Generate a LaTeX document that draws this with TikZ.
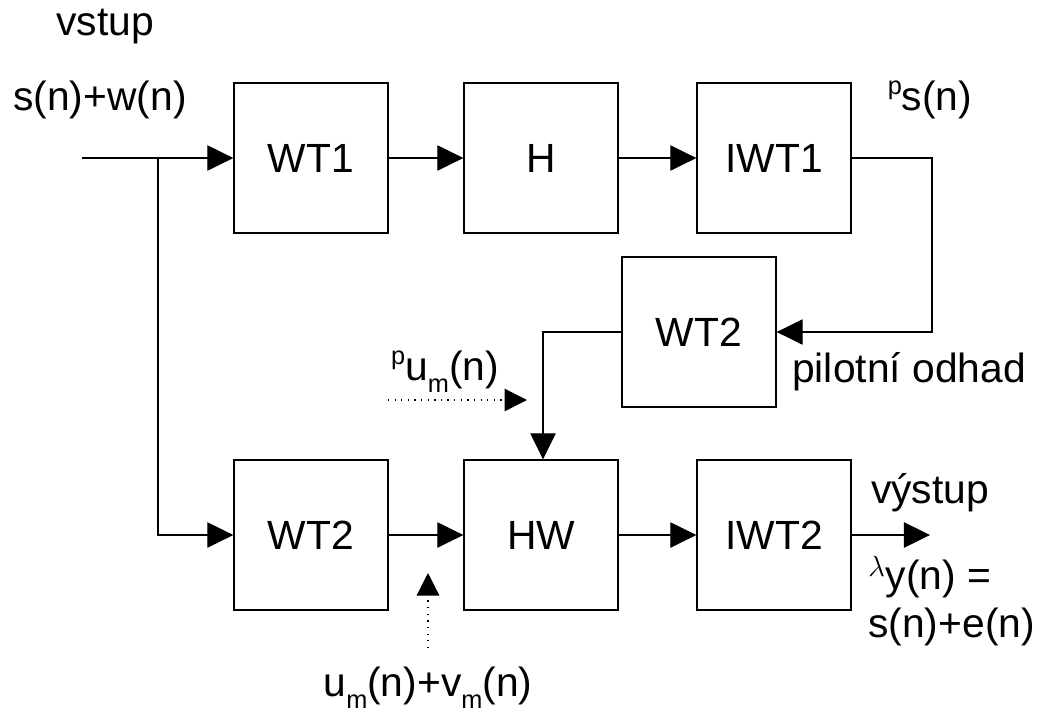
\documentclass[tikz,border=0pt]{standalone}
\usepackage{fontspec}
\setmainfont{Liberation Sans}
\usetikzlibrary{arrows.meta}
\newcommand{\sm}{\raisebox{-0.55ex}{\fontsize{18}{18}\selectfont m}}
\newcommand{\supp}{\raisebox{0.75ex}{\fontsize{18}{18}\selectfont p}}
\begin{document}
\begin{tikzpicture}[x=0.025cm,y=-0.025cm,
  lbl/.style={font=\fontsize{29}{33}\selectfont, inner sep=0},
  blk/.style={draw, line width=0.9pt, minimum width=3.85cm, minimum height=3.75cm, inner sep=0, font=\fontsize{29}{33}\selectfont},
  arr/.style={line width=0.9pt, -{Triangle[length=18.5pt,width=18pt]}},
  dotarr/.style={line width=0.9pt, dash pattern=on 0.9pt off 3.8pt, -{Triangle[length=16pt,width=16pt]}}]
\useasboundingbox (0,0) rectangle (1051,713);
\node[blk] (WT1) at (311,158) {WT1};
\node[blk] (H) at (541,158) {H};
\node[blk] (IWT1) at (774,158) {IWT1};
\node[blk] (WT2m) at (699,332) {WT2};
\node[blk] (WT2b) at (311,535) {WT2};
\node[blk] (HW) at (541,535) {HW};
\node[blk] (IWT2) at (774,535) {IWT2};
\coordinate (in) at (82,158);
\coordinate (br) at (158,158);
\coordinate (out) at (930,535);
\coordinate (fb) at (932,158);
\coordinate (d1s) at (388,400);
\coordinate (d1e) at (527,400);
\coordinate (d2s) at (428,648);
\coordinate (d2e) at (428,573);
\draw[arr] (in) -- (WT1.west);
\draw[arr] (br) |- (WT2b.west);
\draw[arr] (WT1.east) -- (H.west);
\draw[arr] (H.east) -- (IWT1.west);
\draw[arr] (IWT1.east) -- (fb) |- (WT2m.east);
\draw[arr] (WT2m.west) -| ([xshift=0.05cm]HW.north);
\draw[arr] (WT2b.east) -- (HW.west);
\draw[arr] (HW.east) -- (IWT2.west);
\draw[arr] (IWT2.east) -- (out);
\draw[dotarr] (d1s) -- (d1e);
\draw[dotarr] (d2s) -- (d2e);
\node[lbl] (t1) at (105,27) {vstup};
\node[lbl] (t2) at (100,100) {s(n)+w(n)};
\node[lbl] (t3) at (930,100) {\supp s(n)};
\node[lbl] (t4) at (909,372) {pilotní odhad};
\node[lbl] (t5) at (445,372) {\supp u\sm(n)};
\node[lbl] (t6) at (428,688) {u\sm(n)+v\sm(n)};
\node[lbl] (t7) at (930,493) {výstup};
\node[lbl, anchor=west] (t8) at (868,577) {$^{\lambda}$y(n) =};
\node[lbl, anchor=west] (t9) at (868,627) {s(n)+e(n)};
\end{tikzpicture}
\end{document}
